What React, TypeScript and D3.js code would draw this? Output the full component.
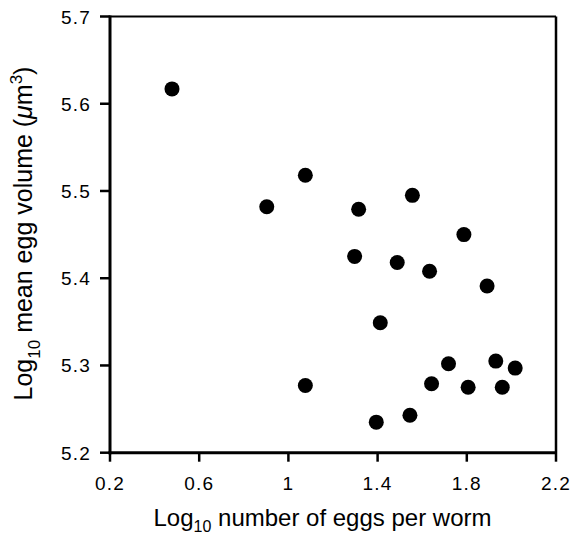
import React from "react";
import * as d3 from "d3";

const xValues = [0.478, 0.903, 1.076, 1.076, 1.297, 1.315, 1.394, 1.412, 1.488, 1.545, 1.556, 1.633, 1.642, 1.718, 1.787, 1.806, 1.891, 1.930, 1.959, 2.017];
const yValues = [5.617, 5.482, 5.518, 5.277, 5.425, 5.479, 5.235, 5.349, 5.418, 5.243, 5.495, 5.408, 5.279, 5.302, 5.450, 5.275, 5.391, 5.305, 5.275, 5.297];
const xTicks = [0.2, 0.6, 1.0, 1.4, 1.8, 2.2];
const xTickLabels = ["0.2", "0.6", "1", "1.4", "1.8", "2.2"];
const yTicks = [5.2, 5.3, 5.4, 5.5, 5.6, 5.7];
const yTickLabels = ["5.2", "5.3", "5.4", "5.5", "5.6", "5.7"];

const W = 574, H = 535;
const left = 110, right = 556, top = 16.5, bottom = 452.7;
const font = "'Liberation Sans', Arial, Helvetica, sans-serif";

export default function App() {
  const x = d3.scaleLinear().domain([0.2, 2.2]).range([left, right]);
  const y = d3.scaleLinear().domain([5.2, 5.7]).range([bottom, top]);
  const pts = xValues.map((v, i) => [v, yValues[i]]);
  return (
    <svg width={W} height={H} style={{ position: "absolute", left: 0, top: 0, background: "#fff" }}>
      <rect x={0} y={0} width={W} height={H} fill="#fff" />
      <line x1={left} x2={right} y1={top} y2={top} stroke="#000" strokeWidth={2.2} />
      <line x1={right} x2={right} y1={top} y2={bottom} stroke="#000" strokeWidth={2.5} />
      <line x1={left} x2={left} y1={top - 1} y2={bottom + 1.5} stroke="#000" strokeWidth={3} />
      <line x1={left - 1.5} x2={right + 1} y1={bottom} y2={bottom} stroke="#000" strokeWidth={3} />
      {xTicks.map((t, i) => (
        <g key={"xt" + i}>
          <line x1={x(t)} x2={x(t)} y1={bottom} y2={bottom + 9} stroke="#000" strokeWidth={2.5} />
          <text x={x(t)} y={490} textAnchor="middle" fontFamily={font} fontSize={19} letterSpacing={1.2} fill="#000">{xTickLabels[i]}</text>
        </g>
      ))}
      {yTicks.map((t, i) => (
        <g key={"yt" + i}>
          <line x1={left - 10} x2={left} y1={y(t)} y2={y(t)} stroke="#000" strokeWidth={2.5} />
          <text x={91} y={y(t) + 7} textAnchor="end" fontFamily={font} fontSize={19} letterSpacing={1.2} fill="#000">{yTickLabels[i]}</text>
        </g>
      ))}
      {pts.map((p, i) => (
        <circle key={"p" + i} cx={x(p[0])} cy={y(p[1])} r={7.5} fill="#000" />
      ))}
      <text x={322.5} y={526} textAnchor="middle" fontFamily={font} fontSize={24} fill="#000">
        Log<tspan fontSize={16} dy={6}>10</tspan><tspan dy={-6}> number of eggs per worm</tspan>
      </text>
      <text transform={`translate(32,233.5) rotate(-90)`} textAnchor="middle" fontFamily={font} fontSize={25} fill="#000">
        Log<tspan fontSize={17} dy={8}>10</tspan><tspan dy={-8}> mean egg volume (</tspan><tspan fontStyle="italic">μ</tspan><tspan>m</tspan><tspan fontSize={17} dy={-10}>3</tspan><tspan dy={10}>)</tspan>
      </text>
    </svg>
  );
}
